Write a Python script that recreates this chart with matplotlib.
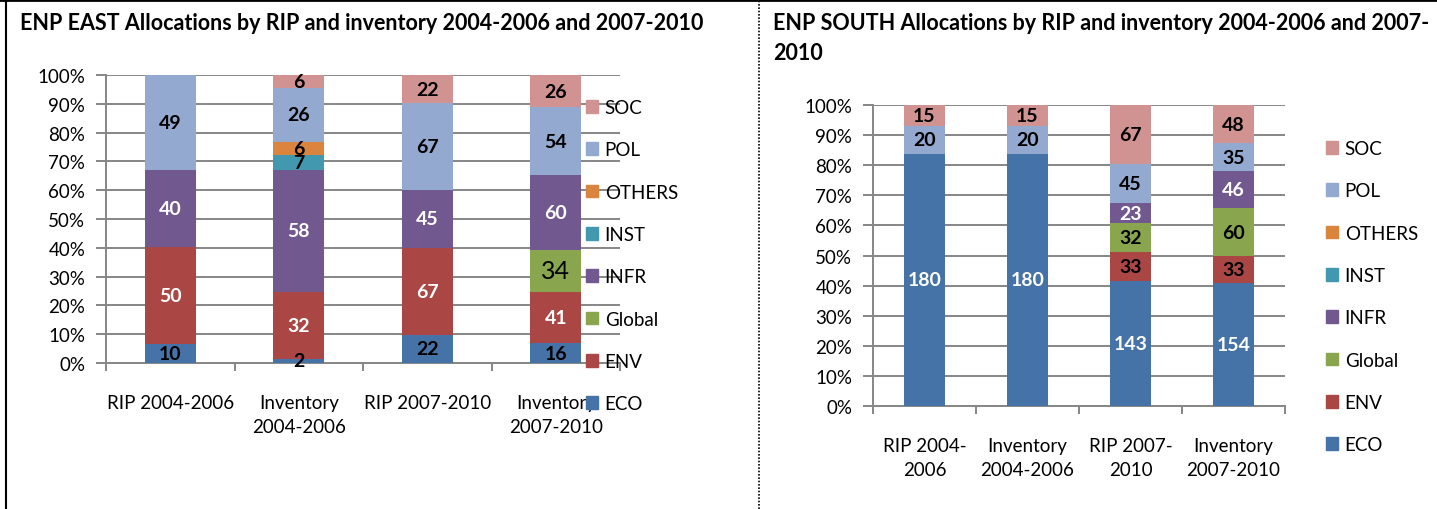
import matplotlib
matplotlib.use("Agg")
import matplotlib.pyplot as plt
from matplotlib.lines import Line2D
from matplotlib.patches import Patch
from matplotlib.ticker import PercentFormatter
import numpy as np

plt.rcParams['font.family'] = ['Lato', 'DejaVu Sans']

# Input data
sectors = ['ECO', 'ENV', 'Global', 'INFR', 'INST', 'OTHERS', 'POL', 'SOC']
colors = ['#4572A7', '#AA4643', '#89A54E', '#71588F', '#4198AF', '#DB843D', '#93A9CF', '#D19392']

east_categories = ['RIP 2004-2006', 'Inventory\n2004-2006', 'RIP 2007-2010', 'Inventory\n2007-2010']
east_eco = [10, 2, 22, 16]
east_env = [50, 32, 67, 41]
east_global = [0, 0, 0, 34]
east_infr = [40, 58, 45, 60]
east_inst = [0, 7, 0, 0]
east_others = [0, 6, 0, 0]
east_pol = [49, 26, 67, 54]
east_soc = [0, 6, 22, 26]

south_categories = ['RIP 2004-\n2006', 'Inventory\n2004-2006', 'RIP 2007-\n2010', 'Inventory\n2007-2010']
south_eco = [180, 180, 143, 154]
south_env = [0, 0, 33, 33]
south_global = [0, 0, 32, 60]
south_infr = [0, 0, 23, 46]
south_inst = [0, 0, 0, 0]
south_others = [0, 0, 0, 0]
south_pol = [20, 20, 45, 35]
south_soc = [15, 15, 67, 48]

east_title = 'ENP EAST Allocations by RIP and inventory 2004-2006 and 2007-2010'
south_title_1 = 'ENP SOUTH Allocations by RIP and inventory 2004-2006 and 2007-'
south_title_2 = '2010'

# label colours inside the segments
east_txt = ['black', 'white', 'black', 'white', 'black', 'black', 'black', 'black']
south_txt = ['white', 'black', 'black', 'white', 'black', 'black', 'black', 'black']

W, H = 1437, 510
GRID = '#868686'

fig = plt.figure(figsize=(W / 100, H / 100), dpi=100)


def px_axes(x0, x1, ytop, ybot):
    return fig.add_axes([x0 / W, 1 - ybot / H, (x1 - x0) / W, (ybot - ytop) / H])


def draw_panel(ax, cats, series, txt_colors, plain_global, leg_x, leg_y):
    totals = np.sum(series, axis=0)
    x = np.arange(len(cats)) + 0.5
    bottom = np.zeros(len(cats))
    for i, s in enumerate(sectors):
        vals = np.array(series[i], float)
        share = vals / totals
        ax.bar(x, share, 0.4, bottom=bottom, color=colors[i], zorder=3)
        for xi, v, b, h in zip(x, vals, bottom, share):
            if v <= 0:
                continue
            if plain_global and s == 'Global':
                ax.text(xi, b + h / 2, f'{v:g}', ha='center', va='center',
                        fontsize=18, color='black', zorder=5)
            else:
                ax.text(xi, b + h / 2, f'{v:g}', ha='center', va='center',
                        fontsize=14, fontweight='bold', color=txt_colors[i], zorder=5)
        bottom += share

    ax.set_xlim(0, len(cats))
    ax.set_ylim(0, 1)
    ax.set_yticks(np.arange(0, 1.01, 0.1))
    ax.yaxis.set_major_formatter(PercentFormatter(1.0, decimals=0))
    ax.yaxis.grid(True, color=GRID, lw=1.4, zorder=0)
    ax.set_axisbelow(True)
    for side in ['top', 'right']:
        ax.spines[side].set_visible(False)
    for side in ['left', 'bottom']:
        ax.spines[side].set_color(GRID)
        ax.spines[side].set_linewidth(1.4)
    ax.set_xticks(range(len(cats) + 1))
    ax.set_xticklabels([])
    ax.set_xticks(x, cats, minor=True)
    ax.tick_params(axis='x', which='major', length=6, width=1.4, color=GRID)
    ax.tick_params(axis='x', which='minor', length=0, pad=22, labelsize=13.5)
    for lbl in ax.get_xticklabels(minor=True):
        lbl.set_linespacing(1.5)
    ax.tick_params(axis='y', length=7, width=1.4, color=GRID, pad=8, labelsize=13.5)

    handles = [Patch(color=c) for c in colors][::-1]
    ax.legend(handles, sectors[::-1], loc='upper left',
              bbox_to_anchor=(leg_x / W, 1 - leg_y / H), bbox_transform=fig.transFigure,
              frameon=False, fontsize=13.5, handlelength=0.65, handleheight=0.65,
              handletextpad=0.35, labelspacing=1.35, borderpad=0, borderaxespad=0)


ax1 = px_axes(106, 620, 76, 364)
draw_panel(ax1, east_categories,
           [east_eco, east_env, east_global, east_infr, east_inst, east_others, east_pol, east_soc],
           east_txt, True, 586, 100)

ax2 = px_axes(873, 1285, 106, 407)
draw_panel(ax2, south_categories,
           [south_eco, south_env, south_global, south_infr, south_inst, south_others, south_pol, south_soc],
           south_txt, False, 1326, 141)

# titles
fig.text(20 / W, 1 - 24 / H, east_title, fontsize=15.5, fontweight='bold', va='center')
fig.text(773 / W, 1 - 24 / H, south_title_1, fontsize=15.5, fontweight='bold', va='center')
fig.text(773 / W, 1 - 53 / H, south_title_2, fontsize=15.5, fontweight='bold', va='center')

# frame lines
fig.add_artist(Line2D([0, 1], [1 - 1 / H] * 2, transform=fig.transFigure, color='black', lw=2))
fig.add_artist(Line2D([6 / W] * 2, [0, 1], transform=fig.transFigure, color='black', lw=1.5))
fig.add_artist(Line2D([759 / W] * 2, [0, 1], transform=fig.transFigure, color='black',
                      lw=1.2, linestyle=(0, (1, 1))))

plt.savefig('out.png', dpi=100)
plt.close()
